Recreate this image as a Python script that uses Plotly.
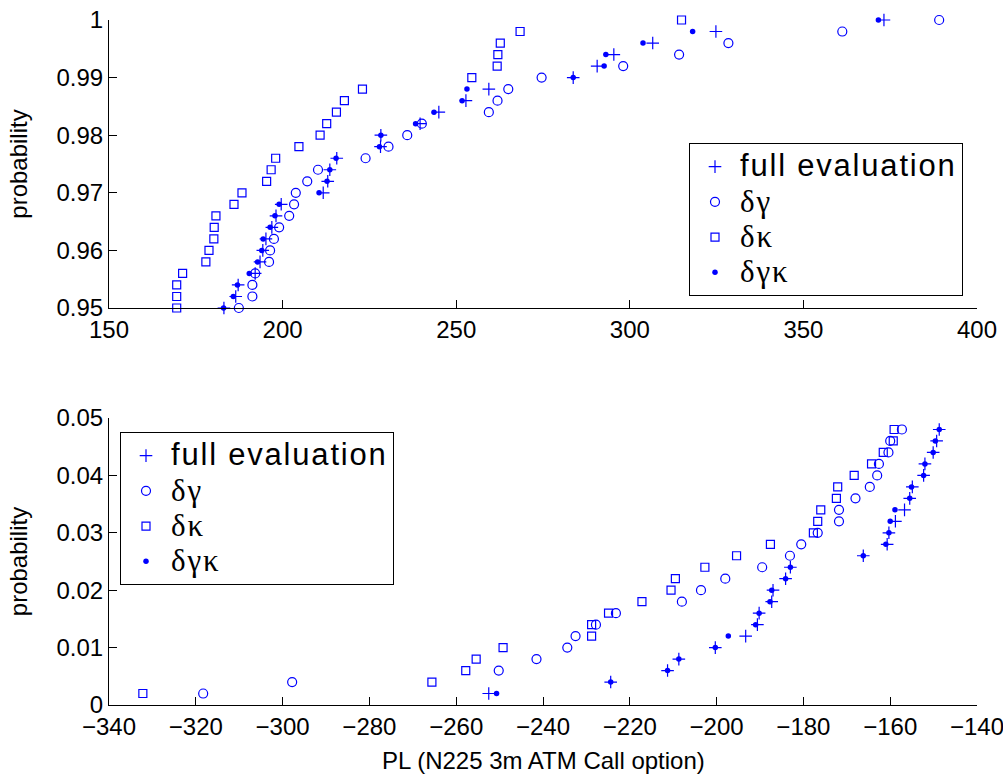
import plotly.graph_objects as go

# ---------------- data ----------------
top_prob = [0.950, 0.952, 0.954, 0.956, 0.958, 0.960, 0.962, 0.964, 0.966, 0.968,
            0.970, 0.972, 0.974, 0.976, 0.978, 0.980, 0.982, 0.984, 0.986, 0.988,
            0.990, 0.992, 0.994, 0.996, 0.998, 1.000]
top_full = [183.1, 186.5, 187.2, 192.1, 193.5, 194.3, 195.2, 196.9, 198.1, 199.6,
            211.7, 213.0, 213.6, 215.6, 228.2, 228.3, 239.6, 245.0, 252.8, 259.4,
            283.7, 290.6, 295.4, 306.6, 324.8, 373.2]
top_dg = [187.4, 191.3, 191.3, 192.1, 196.1, 196.4, 197.5, 199.0, 201.9, 203.3,
          203.8, 207.1, 210.2, 223.9, 230.5, 235.9, 240.1, 259.4, 261.9, 265.0,
          274.6, 298.1, 314.2, 328.4, 361.2, 389.1]
top_dk = [169.5, 169.5, 169.5, 171.2, 177.9, 178.8, 180.2, 180.3, 180.8, 186.0,
          188.3, 195.4, 196.7, 198.0, 204.7, 210.8, 212.7, 215.5, 217.8, 223.0,
          254.5, 261.8, 262.0, 262.7, 268.4, 314.9]
top_dgk = [183.0, 185.8, 187.0, 190.4, 192.8, 194.0, 194.4, 196.4, 197.8, 199.0,
           210.5, 212.8, 213.6, 215.4, 227.9, 228.3, 238.3, 243.6, 251.7, 253.1,
           283.7, 292.6, 293.1, 303.8, 318.1, 371.6]

bot_prob = [0.002, 0.004, 0.006, 0.008, 0.010, 0.012, 0.014, 0.016, 0.018, 0.020,
            0.022, 0.024, 0.026, 0.028, 0.030, 0.032, 0.034, 0.036, 0.038, 0.040,
            0.042, 0.044, 0.046, 0.048]
bot_full = [-252.5, -224.4, -211.3, -208.7, -200.3, -193.3, -190.6, -190.2, -187.3, -187.0,
            -184.1, -183.0, -166.2, -160.7, -160.3, -158.8, -156.7, -155.5, -154.9, -152.3,
            -152.0, -150.1, -149.3, -148.7]
bot_dg = [-318.3, -297.8, -250.2, -241.5, -234.4, -232.5, -227.8, -223.2, -208.0, -203.6,
          -198.0, -189.5, -183.1, -180.5, -176.7, -171.8, -171.8, -168.0, -164.7, -163.0,
          -162.6, -160.4, -160.0, -157.3]
bot_dk = [-332.2, -265.6, -257.8, -255.4, -249.2, -228.8, -228.8, -224.9, -217.2, -210.5,
          -209.5, -202.7, -195.4, -187.6, -177.7, -176.7, -176.0, -172.4, -172.1, -168.3,
          -164.3, -161.6, -159.3, -159.1]
bot_dgk = [-250.7, -224.4, -211.3, -208.7, -200.3, -197.3, -191.0, -190.2, -187.7, -187.3,
           -184.1, -183.0, -166.2, -161.0, -160.3, -160.0, -158.9, -155.5, -155.1, -152.3,
           -152.0, -150.1, -149.6, -148.7]

FS = "font-size:31px;letter-spacing:1.8px"
series_names = ["<span style='%s'>full evaluation</span>" % FS,
                "<span style='font-family:Liberation Serif;%s'>δγ</span>" % FS,
                "<span style='font-family:Liberation Serif;%s'>δκ</span>" % FS,
                "<span style='font-family:Liberation Serif;%s'>δγκ</span>" % FS]
x_title = "PL (N225 3m ATM Call option)"
y_title = "probability"

top_xticks = [150, 200, 250, 300, 350, 400]
top_yticks = [0.95, 0.96, 0.97, 0.98, 0.99, 1.0]
top_yticklabels = ["0.95", "0.96", "0.97", "0.98", "0.99", "1"]
bot_xticks = [-340, -320, -300, -280, -260, -240, -220, -200, -180, -160, -140]
bot_yticks = [0, 0.01, 0.02, 0.03, 0.04, 0.05]
bot_yticklabels = ["0", "0.01", "0.02", "0.03", "0.04", "0.05"]

# ---------------- styles ----------------
BLUE = "#0000ff"
FONT = "Liberation Sans, Arial, sans-serif"
marker_styles = [
    dict(symbol="cross-thin", size=9, color=BLUE, line=dict(color=BLUE, width=1.2)),
    dict(symbol="circle-open", size=9, color=BLUE, line=dict(color=BLUE, width=1.2)),
    dict(symbol="square-open", size=8, color=BLUE, line=dict(color=BLUE, width=1.2)),
    dict(symbol="circle", size=5.5, color=BLUE, line=dict(width=0)),
]

fig = go.Figure()
top_series = [top_full, top_dg, top_dk, top_dgk]
bot_series = [bot_full, bot_dg, bot_dk, bot_dgk]
for i, (name, xs) in enumerate(zip(series_names, top_series)):
    fig.add_trace(go.Scatter(x=xs, y=top_prob, mode="markers", name=name,
                             marker=marker_styles[i], xaxis="x", yaxis="y",
                             legend="legend", legendgroup="t%d" % i,
                             cliponaxis=False, hoverinfo="skip"))
for i, (name, xs) in enumerate(zip(series_names, bot_series)):
    fig.add_trace(go.Scatter(x=xs, y=bot_prob, mode="markers", name=name,
                             marker=marker_styles[i], xaxis="x2", yaxis="y2",
                             legend="legend2", legendgroup="b%d" % i,
                             cliponaxis=False, hoverinfo="skip"))

W, H = 1003, 775
L, R = 109, 977
axis_common = dict(showline=True, linecolor="black", linewidth=1, ticks="inside",
                   ticklen=8, tickwidth=1, tickcolor="black", showgrid=False,
                   zeroline=False, mirror=False, automargin=False,
                   ticklabeloverflow="allow",
                   tickfont=dict(family=FONT, size=24, color="black"))

legend_common = dict(bgcolor="white", bordercolor="black", borderwidth=1,
                     font=dict(family=FONT, size=24.8, color="black"),
                     xanchor="left", yanchor="top", tracegroupgap=0,
                     traceorder="grouped", itemsizing="trace", itemwidth=40)

fig.update_layout(
    width=W, height=H, margin=dict(l=0, r=0, t=0, b=0),
    paper_bgcolor="white", plot_bgcolor="white",
    font=dict(family=FONT, size=24, color="black"),
    showlegend=True,
    xaxis=dict(domain=[L / W, R / W], range=[150, 400], tickvals=top_xticks,
               anchor="y", **axis_common),
    yaxis=dict(domain=[1 - 308 / H, 1 - 20 / H], range=[0.95, 1.0], tickvals=top_yticks,
               ticktext=top_yticklabels, anchor="x",
               title=dict(text=y_title, font=dict(family=FONT, size=24), standoff=22),
               **axis_common),
    xaxis2=dict(domain=[L / W, R / W], range=[-340, -140], tickvals=bot_xticks,
                anchor="y2", **axis_common),
    yaxis2=dict(domain=[1 - 705 / H, 1 - 418 / H], range=[0, 0.05], tickvals=bot_yticks,
                ticktext=bot_yticklabels, anchor="x2",
                title=dict(text=y_title, font=dict(family=FONT, size=24), standoff=22),
                **axis_common),
    legend=dict(x=689 / W, y=1 - 143 / H, **legend_common),
    legend2=dict(x=120 / W, y=1 - 432 / H, **legend_common),
    annotations=[dict(text=x_title, xref="paper", yref="paper",
                      x=(L + R) / 2 / W, y=1 - 760 / H, xanchor="center", yanchor="middle",
                      showarrow=False, font=dict(family=FONT, size=24, color="black"))],
)

fig.write_html("out.html")
